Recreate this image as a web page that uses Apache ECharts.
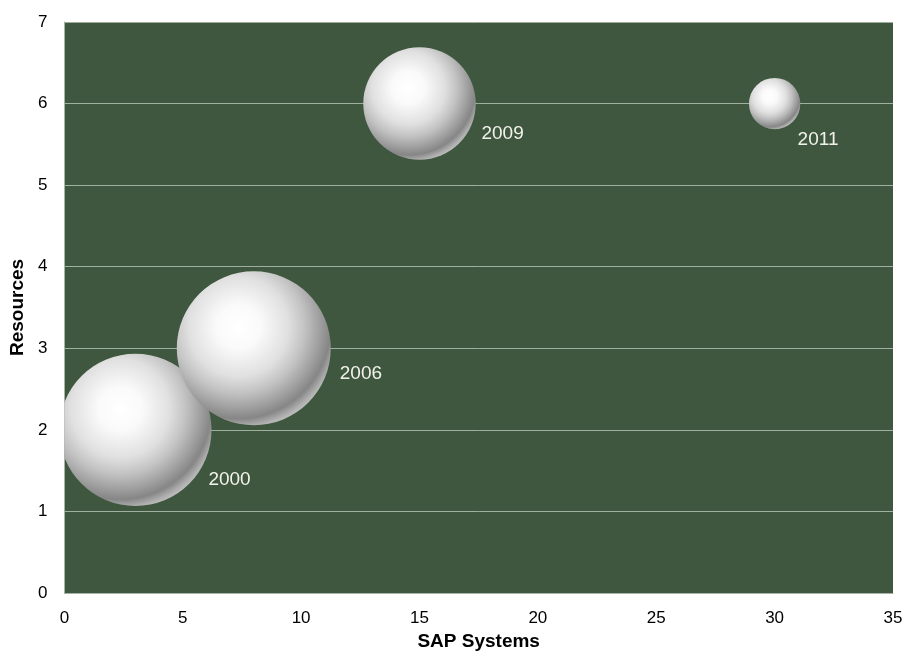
<!DOCTYPE html>
<html>
<head>
<meta charset="utf-8">
<script src="https://cdn.jsdelivr.net/npm/echarts@6/dist/echarts.min.js"></script>
<style>html,body{margin:0;padding:0;background:#fff}#c{width:906px;height:656px}</style>
</head>
<body>
<div id="c"></div>
<script>
// ---- data ----
const years = ['2000', '2006', '2009', '2011'];
const sapSystems = [3, 8, 15, 30];
const resources = [2, 3, 6, 6];
const bubbleSizes = [88, 90, 48, 10];
const xTicks = [0, 5, 10, 15, 20, 25, 30, 35];
const yTicks = [0, 1, 2, 3, 4, 5, 6, 7];

// ---- style ----
const maxRadius = 77;
const labelOffsets = [[73, 50], [86, 25], [62, 30], [23, 36]];
const FONT = '"Liberation Sans", Arial, sans-serif';
const maxSize = Math.max.apply(null, bubbleSizes);

const chart = echarts.init(document.getElementById('c'));
const sphere = new echarts.graphic.RadialGradient(0.4, 0.36, 0.72, [
  { offset: 0, color: '#ffffff' },
  { offset: 0.2, color: '#fafafa' },
  { offset: 0.45, color: '#e0e0e0' },
  { offset: 0.6, color: '#c2c2c2' },
  { offset: 0.74, color: '#9e9e9e' },
  { offset: 0.83, color: '#868686' },
  { offset: 0.9, color: '#b0b0b0' },
  { offset: 1, color: '#d8d8d8' }
]);

chart.setOption({
  animation: false,
  grid: { left: 63, right: 13, top: 22, bottom: 61, show: true, backgroundColor: '#3e573e', borderWidth: 0 },
  xAxis: {
    type: 'value', min: xTicks[0], max: xTicks[xTicks.length - 1], interval: 5,
    name: 'SAP Systems', nameLocation: 'middle', nameGap: 39,
    nameTextStyle: { fontFamily: FONT, fontWeight: 'bold', fontSize: 19, color: '#000' },
    axisLine: { show: true, lineStyle: { color: '#a8b4a8', width: 1 } },
    axisTick: { show: false },
    axisLabel: { fontFamily: FONT, fontSize: 17, color: '#000', margin: 17 },
    splitLine: { show: false }
  },
  yAxis: {
    type: 'value', min: yTicks[0], max: yTicks[yTicks.length - 1], interval: 1,
    name: 'Resources', nameLocation: 'middle', nameGap: 34, nameRotate: 90,
    nameTextStyle: { fontFamily: FONT, fontWeight: 'bold', fontSize: 19, color: '#000' },
    axisLine: { show: true, lineStyle: { color: '#a8b4a8', width: 1 } },
    axisTick: { show: false },
    axisLabel: { fontFamily: FONT, fontSize: 17, color: '#000', margin: 17 },
    splitLine: { show: true, lineStyle: { color: '#9fb09f', width: 1 } }
  },
  series: [{
    type: 'custom',
    clip: false,
    data: years.map((y, i) => [sapSystems[i], resources[i], bubbleSizes[i], y]),
    renderItem: function (params, api) {
      const i = params.dataIndex;
      const cs = params.coordSys;
      const p = api.coord([api.value(0), api.value(1)]);
      const r = maxRadius * Math.sqrt(api.value(2) / maxSize);
      return {
        type: 'group',
        children: [
          {
            type: 'group',
            clipPath: { type: 'rect', shape: { x: cs.x, y: cs.y, width: cs.width, height: cs.height } },
            children: [
              { type: 'circle', shape: { cx: p[0], cy: p[1], r: r }, style: { fill: sphere } }
            ]
          },
          {
            type: 'text',
            style: {
              x: p[0] + labelOffsets[i][0], y: p[1] + labelOffsets[i][1],
              text: years[i], fill: '#f2f2ea', font: '19px ' + FONT,
              verticalAlign: 'middle', align: 'left'
            }
          }
        ]
      };
    }
  }]
});
</script>
</body>
</html>
